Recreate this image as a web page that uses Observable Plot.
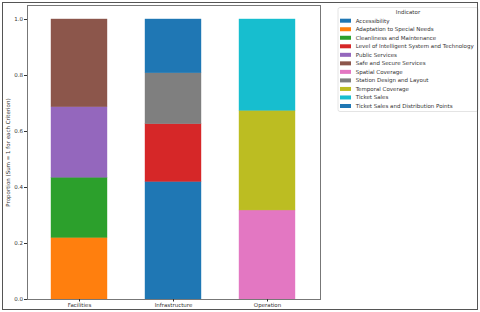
<!DOCTYPE html>
<html>
<head>
<meta charset="utf-8">
<script src="https://cdn.jsdelivr.net/npm/d3@7"></script>
<script src="https://cdn.jsdelivr.net/npm/@observablehq/plot@0.6"></script>
<style>
  html, body { margin: 0; padding: 0; background: #fff; }
  #wrap { position: relative; width: 480px; height: 312px; overflow: hidden; font-family: "DejaVu Sans", sans-serif; }
  #border { position: absolute; left: 2px; top: 2px; width: 474px; height: 306px; border: 1.2px solid #555; pointer-events: none; }
  #chart { position: absolute; left: 0; top: 0; }
  #legend { position: absolute; left: 0; top: 0; }
</style>
</head>
<body>
<div id="wrap">
  <div id="chart"></div>
  <svg id="legend" width="480" height="312"></svg>
  <div id="border"></div>
</div>
<script>
const criteria = ["Facilities", "Infrastructure", "Operation"];
const indicators = [
  "Accessibility",
  "Adaptation to Special Needs",
  "Cleanliness and Maintenance",
  "Level of Intelligent System and Technology",
  "Public Services",
  "Safe and Secure Services",
  "Spatial Coverage",
  "Station Design and Layout",
  "Temporal Coverage",
  "Ticket Sales",
  "Ticket Sales and Distribution Points"
];
const indicatorColors = ["#1f77b4", "#ff7f0e", "#2ca02c", "#d62728", "#9467bd", "#8c564b", "#e377c2", "#7f7f7f", "#bcbd22", "#17becf", "#1f77b4"];

const facilitiesIndicators = ["Adaptation to Special Needs", "Cleanliness and Maintenance", "Public Services", "Safe and Secure Services"];
const facilitiesValues = [0.22, 0.215, 0.252, 0.313];
const infrastructureIndicators = ["Accessibility", "Level of Intelligent System and Technology", "Station Design and Layout", "Ticket Sales and Distribution Points"];
const infrastructureValues = [0.42, 0.206, 0.182, 0.192];
const operationIndicators = ["Spatial Coverage", "Temporal Coverage", "Ticket Sales"];
const operationValues = [0.318, 0.356, 0.326];

const yTicks = [0, 0.2, 0.4, 0.6, 0.8, 1.0];

const groups = [
  ["Facilities", facilitiesIndicators, facilitiesValues],
  ["Infrastructure", infrastructureIndicators, infrastructureValues],
  ["Operation", operationIndicators, operationValues]
];
const data = [];
for (const [c, inds, vals] of groups) {
  inds.forEach((ind, i) => data.push({criterion: c, indicator: ind, value: vals[i]}));
}

const chart = Plot.plot({
  width: 480,
  height: 312,
  marginLeft: 27,
  marginRight: 160,
  marginTop: 5,
  marginBottom: 13,
  style: { fontFamily: "DejaVu Sans, sans-serif", fontSize: "5.5px", background: "transparent", color: "#333" },
  x: { domain: criteria, paddingInner: 0.4, paddingOuter: 0.25 },
  y: { domain: [0, 1.05] },
  color: { domain: indicators, range: indicatorColors },
  marks: [
    Plot.barY(data, Plot.stackY({ x: "criterion", y: "value", fill: "indicator", stroke: "indicator", strokeWidth: 0.4, order: indicators })),
    Plot.frame({ stroke: "#777", strokeWidth: 1 }),
    Plot.axisY({ ticks: yTicks, tickFormat: d3.format(".1f"), tickSize: 3, tickPadding: 1.5, label: "Proportion (Sum = 1 for each Criterion)", labelAnchor: "center", labelArrow: "none", labelOffset: 21 }),
    Plot.axisX({ tickSize: 2.5, tickPadding: 1.5, label: null })
  ]
});
document.getElementById("chart").appendChild(chart);

// legend
const lg = d3.select("#legend");
const lx = 338, ly = 7.5, lw = 140, lh = 104;
lg.append("rect").attr("x", lx).attr("y", ly).attr("width", lw).attr("height", lh)
  .attr("rx", 2).attr("fill", "#fff").attr("fill-opacity", 0.9).attr("stroke", "#ddd").attr("stroke-width", 0.8);
lg.append("text").attr("x", lx + lw / 2).attr("y", 12.3).attr("dy", "0.35em").attr("text-anchor", "middle")
  .attr("font-family", "DejaVu Sans, sans-serif").attr("font-size", 5.5).attr("fill", "#333").text("Indicator");
indicators.forEach((ind, i) => {
  const cy = 20.7 + i * 8.53;
  lg.append("rect").attr("x", 340).attr("y", cy - 2).attr("width", 11).attr("height", 4).attr("fill", indicatorColors[i]);
  lg.append("text").attr("x", 355.7).attr("y", cy).attr("dy", "0.35em")
    .attr("font-family", "DejaVu Sans, sans-serif").attr("font-size", 5.5).attr("fill", "#333").text(ind);
});
</script>
</body>
</html>
